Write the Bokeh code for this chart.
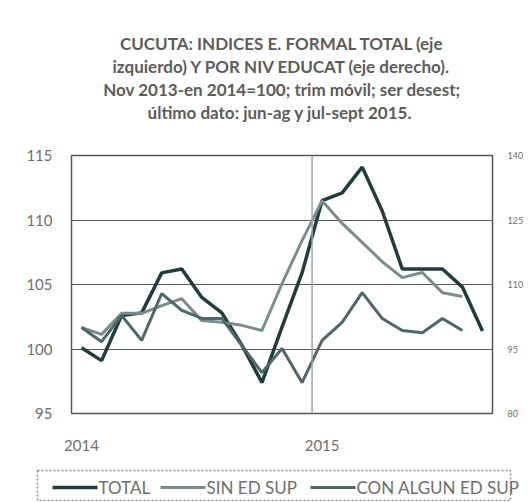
from bokeh.plotting import figure
from bokeh.models import LinearAxis, Range1d, FixedTicker, Span, Title
from bokeh.core.properties import value
from bokeh.embed import file_html
from bokeh.resources import INLINE

# Monthly moving-quarter index, Jan 2014 .. Sep 2015
months = list(range(21))
x_tick_pos = [0, 12]
x_tick_labels = ["2014", "2015"]

# TOTAL (left axis), last data jul-sept 2015
total = [100.1, 99.1, 102.6, 102.8, 105.9, 106.2, 104.0, 102.8, 100.3, 97.4,
         101.7, 105.9, 111.5, 112.1, 114.1, 110.7, 106.2, 106.2, 106.2, 104.8,
         101.4]
# By education level (right axis), last data jun-ag 2015
sin_ed_sup = [100.0, 98.4, 103.3, 103.3, 105.1, 106.7, 101.6, 101.2, 100.5,
              99.3, 110.2, 120.2, 129.5, 124.2, 119.8, 115.3, 111.6, 112.8,
              108.1, 107.2]
con_algun_ed_sup = [100.0, 96.7, 102.8, 97.0, 107.9, 104.0, 102.1, 102.1, 95.8,
                    89.5, 95.1, 87.2, 97.0, 101.2, 108.1, 102.1, 99.3, 98.8,
                    102.1, 99.3]

left_ticks = [95, 100, 105, 110, 115]
right_ticks = [80, 95, 110, 125, 140]

series_names = ["TOTAL", "SIN ED SUP", "CON ALGUN ED SUP"]
series_colors = ["#1f3d3c", "#7a8d8d", "#4d6868"]
series_widths = [3.5, 3, 3]

title_lines = [
    "CUCUTA: INDICES E. FORMAL TOTAL (eje",
    "izquierdo) Y POR NIV EDUCAT (eje derecho).",
    "Nov 2013-en 2014=100; trim móvil; ser desest;",
    "último dato: jun-ag  y jul-sept 2015.",
]

FONT = "Lato"
TXT = "#6e6e6e"
W = 526

p = figure(frame_width=421, frame_height=258, output_backend="svg",
           toolbar_location=None,
           x_range=Range1d(-0.5, 20.5), y_range=Range1d(95, 115),
           min_border_left=71, min_border_right=34, min_border_top=155,
           min_border_bottom=50, title=None)
p.extra_y_ranges = {"right": Range1d(80, 140)}
p.background_fill_color = "white"
p.border_fill_color = "white"
p.outline_line_color = "#555555"
p.outline_line_width = 1.5

# spacer between the title block and the plot frame
p.add_layout(Title(text=" ", text_font_size="28px", standoff=0), "above")
# titles (added nearest-first)
for line in reversed(title_lines):
    t = Title(text=line, align="center", text_font=FONT,
              text_font_size="17px", text_font_style="bold",
              text_color="#5c5c5c", standoff=0)
    p.add_layout(t, "above")

# axes
p.xaxis.ticker = FixedTicker(ticks=x_tick_pos)
p.xaxis.major_label_overrides = dict(zip(x_tick_pos, x_tick_labels))
p.yaxis.ticker = FixedTicker(ticks=left_ticks)
for ax in [p.xaxis[0], p.yaxis[0]]:
    ax.axis_line_color = None
    ax.major_tick_line_color = None
    ax.minor_tick_line_color = None
    ax.major_label_text_font = FONT
    ax.major_label_text_font_size = "15px"
    ax.major_label_text_color = TXT
p.yaxis.major_label_standoff = 13
p.xaxis.major_label_standoff = 20

ra = LinearAxis(y_range_name="right", ticker=FixedTicker(ticks=right_ticks))
ra.axis_line_color = None
ra.major_tick_line_color = None
ra.minor_tick_line_color = None
ra.major_label_text_font = FONT
ra.major_label_text_font_size = "9px"
ra.major_label_text_color = TXT
ra.major_label_standoff = 9
p.add_layout(ra, "right")

p.xgrid.grid_line_color = None
p.ygrid.ticker = FixedTicker(ticks=left_ticks)
p.ygrid.grid_line_color = "#5a5a5a"
p.ygrid.grid_line_width = 1

p.add_layout(Span(location=11.5, dimension="height", line_color="#98a8a8",
                  line_width=1.5))

p.line(months, total, line_color=series_colors[0], line_width=series_widths[0])
p.line(months[:len(sin_ed_sup)], sin_ed_sup, line_color=series_colors[1],
       line_width=series_widths[1], y_range_name="right")
p.line(months[:len(con_algun_ed_sup)], con_algun_ed_sup,
       line_color=series_colors[2], line_width=series_widths[2],
       y_range_name="right")

# legend strip: a separate small figure whose data units are pixels
LH = 38
lg = figure(width=W, height=LH, output_backend="svg", toolbar_location=None,
            x_range=Range1d(0, W), y_range=Range1d(0, LH),
            x_axis_type=None, y_axis_type=None, min_border=0, title=None)
lg.outline_line_color = None
lg.grid.visible = False
lg.background_fill_color = "white"
lg.border_fill_color = "white"
lg.quad(left=[37], right=[510], bottom=[1], top=[31], fill_color=None,
        line_color="#8a8a8a", line_width=1.5, line_dash="2 2")
glyph_x0 = [52, 160, 310]
ly = 14
for x0, name, c, w in zip(glyph_x0, series_names, series_colors,
                          series_widths):
    lg.segment(x0=[x0], y0=[ly], x1=[x0 + 45], y1=[ly], line_color=c,
               line_width=w)
    lg.text(x=[x0 + 46], y=[ly], text=[name], text_font=value(FONT),
            text_font_size="17px", text_color=TXT, text_baseline="middle",
            text_align="left")

open("out.html", "w").write(file_html([p, lg], INLINE))
